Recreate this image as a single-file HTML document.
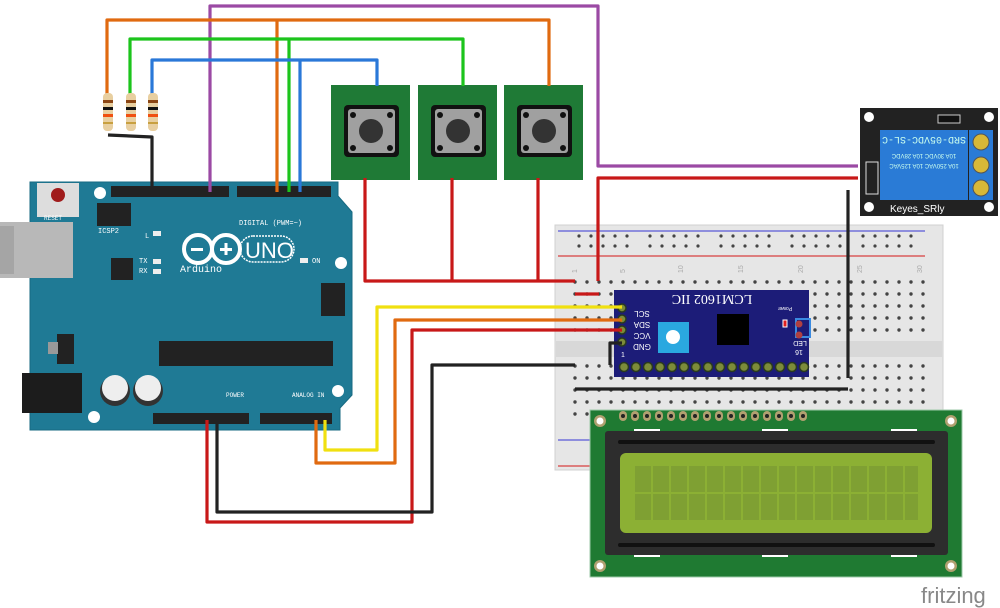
<!DOCTYPE html>
<html><head><meta charset="utf-8"><style>
html,body{margin:0;padding:0;background:#fff;}
svg{display:block;font-family:"Liberation Sans",sans-serif;}
</style></head><body>
<svg width="1000" height="608" viewBox="0 0 1000 608" xmlns="http://www.w3.org/2000/svg">
<!-- Breadboard -->
<rect x="555" y="225" width="388" height="245" fill="#e6e6e6" stroke="#d0d0d0"/>
<line x1="558" y1="231" x2="925" y2="231" stroke="#5a5ad8" stroke-width="1.2"/>
<line x1="558" y1="256" x2="925" y2="256" stroke="#d84040" stroke-width="1.2"/>
<rect x="556" y="341" width="386" height="16" fill="#d8d8d8"/>
<line x1="558" y1="440" x2="925" y2="440" stroke="#5a5ad8" stroke-width="1.2"/>
<line x1="558" y1="466" x2="925" y2="466" stroke="#d84040" stroke-width="1.2"/>
<g fill="#444">
<g id="rail">
<circle cx="579" cy="236" r="1.6"/><circle cx="591" cy="236" r="1.6"/><circle cx="603" cy="236" r="1.6"/><circle cx="615" cy="236" r="1.6"/><circle cx="627" cy="236" r="1.6"/>
<circle cx="579" cy="246" r="1.6"/><circle cx="591" cy="246" r="1.6"/><circle cx="603" cy="246" r="1.6"/><circle cx="615" cy="246" r="1.6"/><circle cx="627" cy="246" r="1.6"/>
</g>
<use href="#rail" x="71"/><use href="#rail" x="142"/><use href="#rail" x="213"/><use href="#rail" x="284"/>
</g>
<g fill="#444">
<g id="col">
<circle cx="575" cy="282" r="1.7"/><circle cx="575" cy="294" r="1.7"/><circle cx="575" cy="306" r="1.7"/><circle cx="575" cy="318" r="1.7"/><circle cx="575" cy="330" r="1.7"/>
<circle cx="575" cy="366" r="1.7"/><circle cx="575" cy="378" r="1.7"/><circle cx="575" cy="390" r="1.7"/><circle cx="575" cy="402" r="1.7"/><circle cx="575" cy="414" r="1.7"/>
</g>
<use href="#col" x="12"/><use href="#col" x="24"/><use href="#col" x="36"/><use href="#col" x="48"/>
<use href="#col" x="60"/><use href="#col" x="72"/><use href="#col" x="84"/><use href="#col" x="96"/><use href="#col" x="108"/>
<use href="#col" x="120"/><use href="#col" x="132"/><use href="#col" x="144"/><use href="#col" x="156"/><use href="#col" x="168"/>
<use href="#col" x="180"/><use href="#col" x="192"/><use href="#col" x="204"/><use href="#col" x="216"/><use href="#col" x="228"/>
<use href="#col" x="240"/><use href="#col" x="252"/><use href="#col" x="264"/><use href="#col" x="276"/><use href="#col" x="288"/>
<use href="#col" x="300"/><use href="#col" x="312"/><use href="#col" x="324"/><use href="#col" x="336"/><use href="#col" x="348"/>
</g>
<g font-size="7" fill="#aaa">
<text x="572" y="272" transform="rotate(-90 575 270)">1</text>
<text x="620" y="272" transform="rotate(-90 623 270)">5</text>
<text x="678" y="272" transform="rotate(-90 681 270)">10</text>
<text x="738" y="272" transform="rotate(-90 741 270)">15</text>
<text x="798" y="272" transform="rotate(-90 801 270)">20</text>
<text x="857" y="272" transform="rotate(-90 860 270)">25</text>
<text x="917" y="272" transform="rotate(-90 920 270)">30</text>
</g>

<!-- LCD -->
<rect x="590" y="410" width="372" height="167" fill="#1f7a32" stroke="#9ec9a8"/>
<g fill="#b0a070"><circle cx="600" cy="421" r="6"/><circle cx="951" cy="421" r="6"/><circle cx="600" cy="566" r="6"/><circle cx="951" cy="566" r="6"/></g>
<g fill="#fff"><circle cx="600" cy="421" r="3.5"/><circle cx="951" cy="421" r="3.5"/><circle cx="600" cy="566" r="3.5"/><circle cx="951" cy="566" r="3.5"/></g>
<g id="lpin"><rect x="619" y="411" width="8" height="10" rx="4" fill="#b0a070"/><circle cx="623" cy="416" r="2" fill="#222"/></g>
<use href="#lpin" x="12"/><use href="#lpin" x="24"/><use href="#lpin" x="36"/><use href="#lpin" x="48"/><use href="#lpin" x="60"/><use href="#lpin" x="72"/><use href="#lpin" x="84"/><use href="#lpin" x="96"/><use href="#lpin" x="108"/><use href="#lpin" x="120"/><use href="#lpin" x="132"/><use href="#lpin" x="144"/><use href="#lpin" x="156"/><use href="#lpin" x="168"/><use href="#lpin" x="180"/>
<rect x="605" y="431" width="343" height="124" rx="3" fill="#2d2d2d"/>
<rect x="618" y="440" width="317" height="4" rx="2" fill="#111"/>
<rect x="618" y="543" width="317" height="4" rx="2" fill="#111"/>
<rect x="620" y="453" width="312" height="80" rx="6" fill="#8cb034"/>
<g fill="#7fa033">
<g id="lrow">
<rect x="635" y="466" width="16" height="26"/><rect x="653" y="466" width="16" height="26"/><rect x="671" y="466" width="16" height="26"/><rect x="689" y="466" width="16" height="26"/>
<rect x="707" y="466" width="16" height="26"/><rect x="725" y="466" width="16" height="26"/><rect x="743" y="466" width="16" height="26"/><rect x="761" y="466" width="16" height="26"/>
<rect x="779" y="466" width="16" height="26"/><rect x="797" y="466" width="16" height="26"/><rect x="815" y="466" width="16" height="26"/><rect x="833" y="466" width="16" height="26"/>
<rect x="851" y="466" width="16" height="26"/><rect x="869" y="466" width="16" height="26"/><rect x="887" y="466" width="16" height="26"/><rect x="905" y="466" width="13" height="26"/>
</g>
<use href="#lrow" y="28"/>
</g>
<g fill="#fff"><rect x="634" y="429" width="26" height="2"/><rect x="762" y="429" width="26" height="2"/><rect x="891" y="429" width="26" height="2"/>
<rect x="634" y="555" width="26" height="2"/><rect x="762" y="555" width="26" height="2"/><rect x="891" y="555" width="26" height="2"/></g>

<!-- I2C module -->
<rect x="614" y="290" width="195" height="87" fill="#1c1c78"/>
<text x="712" y="305" text-anchor="middle" font-family="Liberation Serif,serif" font-size="14" fill="#fff" transform="rotate(180 712 300)">LCM1602 IIC</text>
<rect x="717" y="314" width="32" height="31" fill="#000"/>
<rect x="658" y="322" width="31" height="31" fill="#2aa8e0"/>
<circle cx="673" cy="337" r="7" fill="#fff"/>
<rect x="783" y="320" width="4" height="7" fill="#e02020" stroke="#fff" stroke-width="1"/>
<g font-size="8" fill="#fff" text-anchor="middle">
<text x="642" y="317" transform="rotate(180 642 314)">SCL</text>
<text x="642" y="328" transform="rotate(180 642 325)">SDA</text>
<text x="642" y="339" transform="rotate(180 642 336)">VCC</text>
<text x="642" y="350" transform="rotate(180 642 347)">GND</text>
<text x="800" y="347" font-size="7" transform="rotate(180 800 344)">LED</text>
<text x="799" y="356" font-size="7" transform="rotate(180 799 353)">16</text>
<text x="623" y="357" font-size="7">1</text>
<text x="785" y="311" font-size="5" transform="rotate(180 785 309)">Power</text>
</g>
<g fill="#7c8c3a" stroke="#2a3a20" stroke-width="1.5">
<circle cx="622" cy="308" r="4"/><circle cx="622" cy="319" r="4"/><circle cx="622" cy="330" r="4"/><circle cx="622" cy="342" r="4"/>
</g>
<g id="mp"><circle cx="624" cy="367" r="4.5" fill="#7c8c3a" stroke="#2a3a20" stroke-width="1.5"/></g>
<use href="#mp" x="12"/><use href="#mp" x="24"/><use href="#mp" x="36"/><use href="#mp" x="48"/><use href="#mp" x="60"/><use href="#mp" x="72"/><use href="#mp" x="84"/><use href="#mp" x="96"/><use href="#mp" x="108"/><use href="#mp" x="120"/><use href="#mp" x="132"/><use href="#mp" x="144"/><use href="#mp" x="156"/><use href="#mp" x="168"/><use href="#mp" x="180"/>
<rect x="796" y="319" width="14" height="18" fill="none" stroke="#3a8ae0" stroke-width="2"/>
<circle cx="799" cy="324" r="3.5" fill="#b04040"/><circle cx="799" cy="335" r="3.5" fill="#b04040"/>

<!-- Arduino -->
<path d="M38 182 L338 182 L338 196 L352 212 L352 395 L340 408 L340 430 L30 430 L30 182 Z" fill="#1f7a95" stroke="#176a82"/>
<rect x="0" y="222" width="73" height="56" fill="#b8b8b8"/>
<rect x="0" y="226" width="14" height="48" fill="#a5a5a5"/>
<rect x="22" y="373" width="60" height="40" fill="#1c1c1c"/>
<rect x="37" y="183" width="42" height="34" fill="#ddd"/>
<circle cx="58" cy="195" r="7" fill="#a01c1c"/>
<text x="44" y="220" font-size="6" fill="#fff" font-family="Liberation Mono,monospace">RESET</text>
<g fill="#fff"><circle cx="100" cy="193" r="6"/><circle cx="341" cy="263" r="6"/><circle cx="338" cy="391" r="6"/><circle cx="94" cy="417" r="6"/></g>
<rect x="111" y="186" width="118" height="11" fill="#222"/>
<rect x="237" y="186" width="94" height="11" fill="#222"/>
<rect x="153" y="413" width="96" height="11" fill="#222"/>
<rect x="260" y="413" width="72" height="11" fill="#222"/>
<rect x="97" y="203" width="34" height="23" fill="#222"/>
<rect x="321" y="283" width="24" height="33" fill="#222"/>
<rect x="111" y="258" width="22" height="22" fill="#222"/>
<rect x="159" y="341" width="174" height="25" fill="#222"/>
<rect x="57" y="334" width="17" height="30" fill="#222"/>
<rect x="48" y="342" width="10" height="12" fill="#999"/>
<circle cx="115" cy="391" r="15" fill="#333"/><circle cx="115" cy="388" r="13" fill="#eee"/>
<circle cx="148" cy="391" r="15" fill="#333"/><circle cx="148" cy="388" r="13" fill="#eee"/>
<rect x="153" y="231" width="8" height="5" fill="#eee"/><rect x="153" y="259" width="8" height="5" fill="#eee"/><rect x="153" y="269" width="8" height="5" fill="#eee"/><rect x="300" y="258" width="8" height="5" fill="#eee"/>
<g font-size="7" fill="#fff" font-family="Liberation Mono,monospace">
<text x="145" y="238">L</text><text x="139" y="263">TX</text><text x="139" y="273">RX</text><text x="312" y="263">ON</text>
<text x="98" y="233">ICSP2</text>
<text x="239" y="225">DIGITAL (PWM=~)</text>
<text x="292" y="397" font-size="6">ANALOG IN</text><text x="226" y="397" font-size="6">POWER</text>
</g>
<circle cx="198" cy="249" r="14" fill="none" stroke="#fff" stroke-width="4"/>
<circle cx="226" cy="249" r="14" fill="none" stroke="#fff" stroke-width="4"/>
<rect x="191" y="248" width="12" height="3" fill="#fff"/><rect x="220" y="248" width="12" height="3" fill="#fff"/><rect x="224.5" y="243" width="3" height="12" fill="#fff"/>
<rect x="240" y="236" width="54" height="26" rx="13" fill="none" stroke="#fff" stroke-width="1.5" stroke-dasharray="2 1"/>
<text x="245" y="258" font-size="22" fill="#fff">UNO</text>
<text x="180" y="272" font-size="10" fill="#fff" font-family="Liberation Mono,monospace">Arduino</text>

<!-- Buttons -->
<g id="btn">
<rect x="331" y="85" width="79" height="95" fill="#1f7a36"/>
<rect x="344" y="105" width="55" height="52" rx="4" fill="#111"/>
<rect x="348" y="109" width="47" height="44" rx="3" fill="#a0a0a0"/>
<circle cx="371" cy="131" r="12" fill="#333"/>
<g fill="#111"><circle cx="353" cy="115" r="3"/><circle cx="390" cy="115" r="3"/><circle cx="353" cy="148" r="3"/><circle cx="390" cy="148" r="3"/></g>
</g>
<use href="#btn" x="87"/><use href="#btn" x="173"/>

<!-- Relay -->
<rect x="860" y="108" width="138" height="108" fill="#222"/>
<g fill="#fff"><circle cx="869" cy="117" r="5"/><circle cx="989" cy="117" r="5"/><circle cx="869" cy="207" r="5"/><circle cx="989" cy="207" r="5"/></g>
<rect x="880" y="130" width="88" height="70" fill="#2a7bd6"/>
<rect x="969" y="130" width="24" height="70" fill="#2a7bd6"/>
<g fill="#d8b838" stroke="#555"><circle cx="981" cy="142" r="8"/><circle cx="981" cy="165" r="8"/><circle cx="981" cy="188" r="8"/></g>
<rect x="938" y="115" width="22" height="8" fill="#111" stroke="#ccc"/>
<g text-anchor="middle" fill="#cfe">
<text x="924" y="145" font-size="10" font-family="Liberation Mono,monospace" transform="rotate(180 924 141)">SRD-05VDC-SL-C</text>
<text x="924" y="158" font-size="6" transform="rotate(180 924 156)">10A 30VDC 10A 28VDC</text>
<text x="924" y="168" font-size="6" transform="rotate(180 924 166)">10A 250VAC 10A 125VAC</text>
</g>
<text x="890" y="212" font-size="10" fill="#fff">Keyes_SRly</text>
<rect x="866" y="162" width="12" height="32" fill="none" stroke="#ddd"/>

<!-- Wires -->
<g fill="none" stroke-width="3.2" stroke-linejoin="round">
<polyline points="210,192 210,6 598,6 598,166 858,166" stroke="#9b4aa4"/>
<polyline points="107,95 107,20 549,20 549,86" stroke="#e06a10"/>
<polyline points="277,192 277,20" stroke="#e06a10"/>
<polyline points="130,95 130,39 463,39 463,86" stroke="#1cc41c"/>
<polyline points="289,192 289,39" stroke="#1cc41c"/>
<polyline points="152,95 152,60 377,60 377,86" stroke="#2a78d8"/>
<polyline points="300,192 300,60" stroke="#2a78d8"/>
<polyline points="108,135 152,137 152,192" stroke="#222"/>
<polyline points="365,178 365,281 575,281" stroke="#c81818"/>
<polyline points="452,178 452,281" stroke="#c81818"/>
<polyline points="538,178 538,281" stroke="#c81818"/>
<polyline points="598,281 598,178 858,178" stroke="#c81818"/>
<polyline points="575,294 599,294" stroke="#c81818"/>
<polyline points="848,190 848,378" stroke="#222"/>
<polyline points="575,389 848,389" stroke="#222"/>
<polyline points="207,420 207,522 412,522 412,330 622,330" stroke="#c81818"/>
<polyline points="217,420 217,512 432,512 432,365 575,365" stroke="#222"/>
<polyline points="610,365 610,343 622,343" stroke="#222"/>
<polyline points="325,420 325,450 377,450 377,307 622,307" stroke="#f0e010"/>
<polyline points="316,420 316,463 395,463 395,320 622,320" stroke="#e06a10"/>
</g>
<g id="res">
<rect x="103" y="93" width="10" height="38" rx="4" fill="#e8cfa0"/>
<rect x="103" y="100" width="10" height="3" fill="#8b4513"/><rect x="103" y="107" width="10" height="3" fill="#111"/><rect x="103" y="114" width="10" height="3" fill="#f05010"/><rect x="103" y="122" width="10" height="2" fill="#c8a040"/>
</g>
<use href="#res" x="23"/><use href="#res" x="45"/>

<text x="921" y="603" font-size="22" fill="#888">fritzing</text>
</svg>
</body></html>
